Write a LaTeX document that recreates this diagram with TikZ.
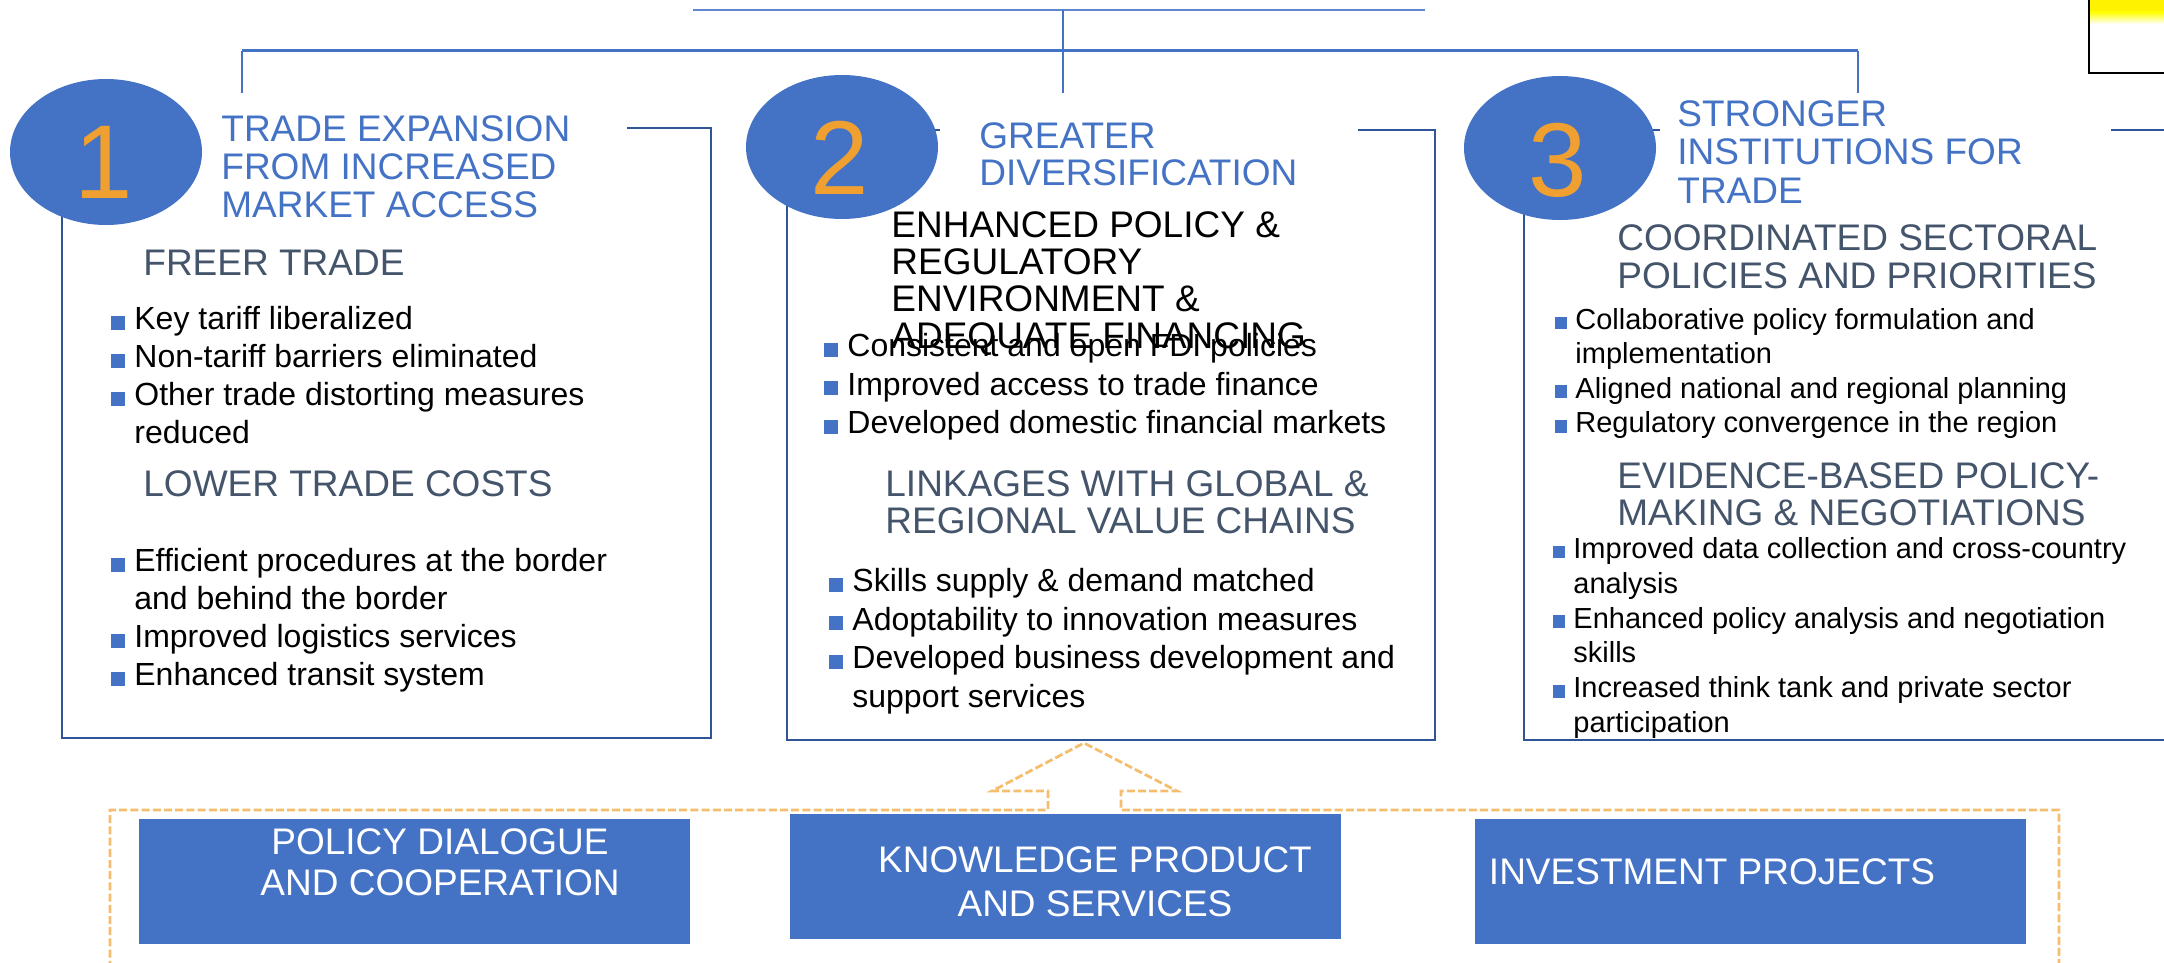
\documentclass[tikz,border=0pt]{standalone}
\usepackage{fontspec}
\setmainfont{Liberation Sans}
\usetikzlibrary{shapes.geometric}
\definecolor{tblue}{HTML}{4472C4}
\definecolor{dkblue}{HTML}{2F5597}
\definecolor{slate}{HTML}{44546A}
\definecolor{numorange}{HTML}{F0A030}
\definecolor{frameorange}{HTML}{F5BE6E}
\newcommand{\bsq}{\llap{\textcolor{tblue}{\rule{0.44em}{0.44em}}\hspace{0.28em}}}

\begin{document}
\begin{tikzpicture}[x=0.5pt, y=-0.5pt,
  ttl/.style={anchor=north west, inner sep=0, align=left, text=tblue, font=\fontsize{18.5pt}{19pt}\selectfont},
  subhd/.style={anchor=north west, inner sep=0, align=left, text=slate, font=\fontsize{18.5pt}{18.75pt}\selectfont},
  hdblk/.style={anchor=north west, inner sep=0, align=left, text=black, font=\fontsize{18.5pt}{18.5pt}\selectfont},
  bul/.style={anchor=north west, inner sep=0, align=left, font=\fontsize{16pt}{19pt}\selectfont},
  bulsm/.style={anchor=north west, inner sep=0, align=left, font=\fontsize{14.5pt}{17.2pt}\selectfont},
  circ/.style={ellipse, fill=tblue, inner sep=0, minimum width=96pt, minimum height=72pt},
  num/.style={inner sep=0, text=numorange, font=\fontsize{52.5pt}{52.5pt}\selectfont},
  pillar/.style={rectangle, fill=tblue, inner sep=0, minimum width=275.5pt, minimum height=62.5pt},
  ptxt/.style={inner sep=0, align=center, text=white, font=\fontsize{18.5pt}{20.5pt}\selectfont},
  boxln/.style={dkblue, line width=1.2pt},
  topln/.style={tblue, line width=0.8pt},
  frame/.style={frameorange, line width=1.4pt, dash pattern=on 4pt off 1.6pt}]

\useasboundingbox (0,0) rectangle (2164,963);
\clip (0,0) rectangle (2164,963);

% top connectors
\coordinate (ttlL) at (693,10);
\coordinate (ttlR) at (1425,10);
\coordinate (hub) at (1063,10);
\coordinate (barM) at (1063,93);
\coordinate (barL) at (242,51);
\coordinate (barR) at (1858,51);
\draw[topln, tblue!85] (ttlL) -- (ttlR);
\draw[topln] (hub) -- (barM);
\draw[topln, line width=1.5pt] (barL) -- (barR);
\draw[topln] (barL) -- ++(0,42);
\draw[topln] (barR) -- ++(0,42);

% cut-off picture at top right
\fill[yellow] (2090,0) rectangle (2170,12);
\shade[top color=yellow, bottom color=white] (2090,12) rectangle (2170,24);
\draw[line width=0.6pt] (2089,-5) -- (2089,73) -- (2170,73);

% pillar boxes
\draw[boxln] (627,128) -| (711,738) -| (62,128) -- (194,128);
\draw[boxln] (1358,130) -| (1435,740) -| (787,130) -- (940,130);
\draw[boxln] (2111,130) -- (2170,130);
\draw[boxln] (2170,740) -| (1524,130) -- (1660,130);

% numbered circles
\node[circ, minimum height=73pt] (c1) at (106,152) {};
\node[circ] (c2) at (842,147) {};
\node[circ] (c3) at (1560,148) {};
\node[num] (n1) at (104,162) {1};
\node[num] (n2) at (840,158) {2};
\node[num] (n3) at (1558,160) {3};

% titles
\node[ttl] (t1) at (221,115) {TRADE EXPANSION\\FROM INCREASED\\MARKET ACCESS};
\node[ttl, font=\fontsize{18.5pt}{18.5pt}\selectfont] (t2) at (979,122) {GREATER\\DIVERSIFICATION};
\node[ttl, font=\fontsize{18.5pt}{19.25pt}\selectfont] (t3) at (1677,100) {STRONGER\\INSTITUTIONS FOR\\TRADE};

% box 1
\node[subhd] (h1a) at (143,250) {FREER TRADE};
\node[bul] (l1a) at (134,306) {\bsq Key tariff liberalized\\\bsq Non-tariff barriers eliminated\\\bsq Other trade distorting measures\\reduced};
\node[subhd] (h1b) at (143,470) {LOWER TRADE COSTS};
\node[bul] (l1b) at (134,548) {\bsq Efficient procedures at the border\\and behind the border\\\bsq Improved logistics services\\\bsq Enhanced transit system};

% box 2
\node[hdblk] (h2a) at (891,211) {ENHANCED POLICY \&\\REGULATORY\\ENVIRONMENT \&\\ADEQUATE FINANCING};
\node[bul, font=\fontsize{16pt}{19.25pt}\selectfont] (l2a) at (847,333) {\bsq Consistent and open FDI policies\\\bsq Improved access to trade finance\\\bsq Developed domestic financial markets};
\node[subhd, font=\fontsize{18.5pt}{18.5pt}\selectfont] (h2b) at (885,470) {LINKAGES WITH GLOBAL \&\\REGIONAL VALUE CHAINS};
\node[bul, font=\fontsize{16pt}{19.35pt}\selectfont] (l2b) at (852,568) {\bsq Skills supply \& demand matched\\\bsq Adoptability to innovation measures\\\bsq Developed business development and\\support services};

% box 3
\node[subhd, font=\fontsize{18.5pt}{19pt}\selectfont] (h3a) at (1617,224) {COORDINATED SECTORAL\\POLICIES AND PRIORITIES};
\node[bulsm] (l3a) at (1575,308) {\bsq Collaborative policy formulation and\\implementation\\\bsq Aligned national and regional planning\\\bsq Regulatory convergence in the region};
\node[subhd] (h3b) at (1617,462) {EVIDENCE-BASED POLICY-\\MAKING \& NEGOTIATIONS};
\node[bulsm, font=\fontsize{14.5pt}{17.4pt}\selectfont] (l3b) at (1573,537) {\bsq Improved data collection and cross-country\\analysis\\\bsq Enhanced policy analysis and negotiation\\skills\\\bsq Increased think tank and private sector\\participation};

% dashed frame with hollow arrow
\draw[frame] (110,980) -- (110,810) -- (1048,810) -- (1048,791) -- (992,791) -- (1084,743)
  -- (1177,791) -- (1121,791) -- (1121,810) -- (2059,810) -- (2059,980);

% bottom blocks
\node[pillar] (p1) at (414.5,881.5) {};
\node[pillar] (p2) at (1065,876) {};
\node[pillar] (p3) at (1750.5,881.5) {};
\node[ptxt] (p1t) at (440,862) {POLICY DIALOGUE\\AND COOPERATION};
\node[ptxt, font=\fontsize{18.5pt}{22pt}\selectfont] (p2t) at (1095,882) {KNOWLEDGE PRODUCT\\AND SERVICES};
\node[ptxt] (p3t) at (1712,872) {INVESTMENT PROJECTS};

\end{tikzpicture}
\end{document}
